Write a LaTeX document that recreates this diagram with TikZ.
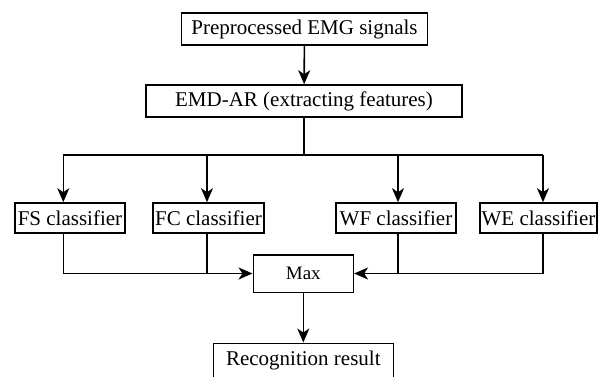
\documentclass[tikz,border=0pt]{standalone}
\usepackage{fontspec}
\setmainfont{Liberation Serif}
\newfontfamily\figfont{Liberation Serif}
\usetikzlibrary{arrows.meta, positioning, calc}
\tikzset{
  bx/.style={draw=black, fill=white, minimum width=#1, minimum height=30pt,
             inner sep=1pt, align=center, font=\figfont\fontsize{21}{24}\selectfont,
             line width=1.6pt},
  arr/.style={-{Stealth[length=14pt, width=12pt, inset=4pt]}, line width=1.6pt},
  ln/.style={line width=1.6pt},
}
\begin{document}
\begin{tikzpicture}[x=1pt, y=1pt]
  \useasboundingbox (0,0) rectangle (601,376);

  % ─── Feature extraction ────────────────────────────────────────────
  \node[bx=246pt, minimum height=32pt] (pre) at (304.5, 347) {Preprocessed EMG signals};
  \node[bx=316pt, minimum height=32pt] (emd) at (304, 275) {EMD-AR (extracting features)};
  \draw[arr] (pre) -- (emd);

  % Split points
  \coordinate (split) at (304, 221);
  \coordinate (b1) at (63.3, 221);
  \coordinate (b2) at (207, 221);
  \coordinate (b3) at (398, 221);
  \coordinate (b4) at (543, 221);
  \draw[ln] (emd.south) -- (split);
  \draw[ln] (b1) -- (b4);

  % ─── Classifiers ───────────────────────────────────────────────────
  \node[bx=110pt] (fs) at (70, 158) {FS classifier};
  \node[bx=111pt] (fc) at (208.5, 158) {FC classifier};
  \node[bx=120pt] (wf) at (396, 158) {WF classifier};
  \node[bx=117pt] (we) at (538.5, 158) {WE classifier};
  \draw[arr] (b1) -- (b1 |- fs.north);
  \draw[arr] (b2) -- (b2 |- fc.north);
  \draw[arr] (b3) -- (b3 |- wf.north);
  \draw[arr] (b4) -- (b4 |- we.north);

  % ─── Fusion ────────────────────────────────────────────────────────
  \node[bx=100pt, minimum height=37.6pt, font=\figfont\fontsize{19}{22}\selectfont]
    (max) at (303.3, 102.5) {Max};
  \draw[arr] (b1 |- fs.south) |- (max.west);
  \draw[ln] (b2 |- fc.south) -- (b2 |- max.west);
  \draw[arr] (b4 |- we.south) |- (max.east);
  \draw[ln] (b3 |- wf.south) -- (b3 |- max.east);

  \node[bx=180pt, minimum height=34pt] (res) at (303.3, 15.7) {Recognition result};
  \draw[arr] (max) -- (res);

\end{tikzpicture}
\end{document}
